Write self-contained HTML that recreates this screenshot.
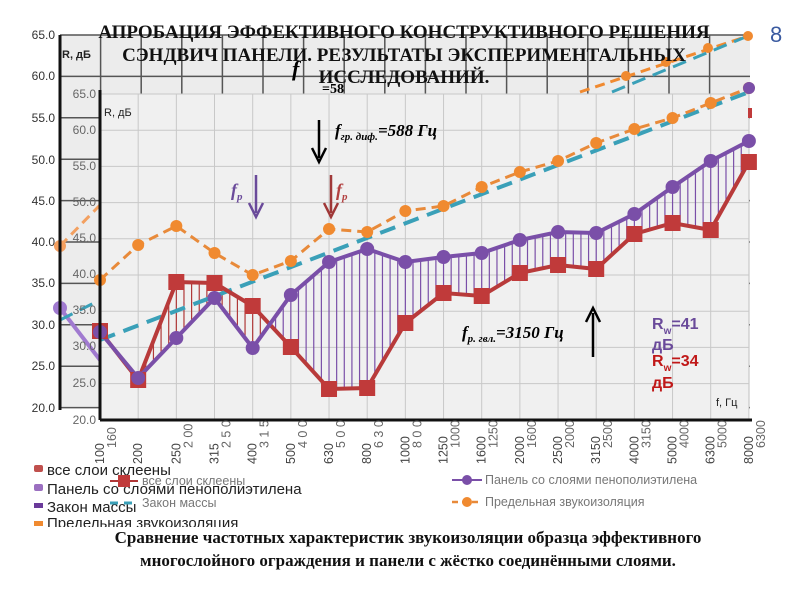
<!DOCTYPE html>
<html><head><meta charset="utf-8"><style>
body{margin:0;background:#fff;width:800px;height:600px;overflow:hidden}
svg{display:block}
.t{font-family:"Liberation Serif",serif;font-weight:bold}
.s{font-family:"Liberation Sans",sans-serif}
</style></head><body>
<svg id="c" width="800" height="600" xmlns="http://www.w3.org/2000/svg">
<rect x="60" y="35" width="690" height="373" fill="#ececec"/>
<g id="og" stroke="#555" stroke-width="1.5"></g>
<rect x="100" y="94" width="649" height="326" fill="#f0f0f0"/>
<g id="ig" stroke="#c8c8c8" stroke-width="1"></g>
<g id="bg"></g>
<g id="ser"></g>
<line x1="60" y1="35" x2="60" y2="410" stroke="#111" stroke-width="3"/>
<line x1="100" y1="90" x2="100" y2="420" stroke="#111" stroke-width="3"/>
<line x1="100" y1="420" x2="752" y2="420" stroke="#111" stroke-width="3"/>
<g class="s" font-size="12" fill="#333" text-anchor="end">
<text x="55" y="39">65.0</text><text x="55" y="80">60.0</text><text x="55" y="122">55.0</text><text x="55" y="164">50.0</text><text x="55" y="205">45.0</text><text x="55" y="246">40.0</text><text x="55" y="287">35.0</text><text x="55" y="329">30.0</text><text x="55" y="370">25.0</text><text x="55" y="412">20.0</text>
</g>
<g class="s" font-size="12" fill="#666" text-anchor="end">
<text x="96" y="98">65.0</text><text x="96" y="134">60.0</text><text x="96" y="170">55.0</text><text x="96" y="206">50.0</text><text x="96" y="242">45.0</text><text x="96" y="278">40.0</text><text x="96" y="314">35.0</text><text x="96" y="350">30.0</text><text x="96" y="387">25.0</text><text x="96" y="424">20.0</text>
</g>
<text class="s" x="62" y="58" font-size="11" font-weight="bold" fill="#222">R, дБ</text>
<text class="s" x="104" y="116" font-size="11" fill="#222">R, дБ</text>
<text class="s" x="716" y="406" font-size="11" fill="#222">f, Гц</text>
<g id="xl" class="s" font-size="12.5" fill="#444"></g>
<g class="t" font-size="19" fill="#111" text-anchor="middle">
<text x="404" y="38">АПРОБАЦИЯ ЭФФЕКТИВНОГО КОНСТРУКТИВНОГО РЕШЕНИЯ</text>
<text x="404" y="61">СЭНДВИЧ ПАНЕЛИ. РЕЗУЛЬТАТЫ ЭКСПЕРИМЕНТАЛЬНЫХ</text>
<text x="404" y="83">ИССЛЕДОВАНИЙ.</text>
</g>
<text class="t" x="292" y="76" font-size="22" font-style="italic">f</text>
<text class="t" x="322" y="93" font-size="14">=58</text>
<text x="770" y="42" font-family="Liberation Sans,sans-serif" font-size="22" fill="#3a5aa0">8</text>
<g class="t" font-style="italic">
<text x="335" y="136" font-size="17">f<tspan font-size="11" dy="4">гр. диф.</tspan><tspan dy="-4">=588 Гц</tspan></text>
<text x="462" y="338" font-size="17">f<tspan font-size="11" dy="4">р. гвл.</tspan><tspan dy="-4">=3150 Гц</tspan></text>
<text x="231" y="196" font-size="18" fill="#6a4a9a">f<tspan font-size="11" dy="4">p</tspan></text>
<text x="336" y="196" font-size="18" fill="#b24040">f<tspan font-size="11" dy="4">p</tspan></text>
</g>
<g stroke-width="2.5" fill="none">
<path d="M319 120V158M312 148L319 162L326 148" stroke="#000"/>
<path d="M256 175V213M249 203L256 217L263 203" stroke="#6a4a9a"/>
<path d="M331 175V213M324 203L331 217L338 203" stroke="#a03838"/>
<path d="M593 357V313M586 322L593 308L600 322" stroke="#000"/>
</g>
<g class="s" font-weight="bold" font-size="16">
<text x="652" y="329" fill="#6a4a9a">R<tspan font-size="10" dy="5">w</tspan><tspan dy="-5">=41</tspan></text>
<text x="652" y="350" fill="#6a4a9a">дБ</text>
<text x="652" y="366" fill="#c01818">R<tspan font-size="10" dy="5">w</tspan><tspan dy="-5">=34</tspan></text>
<text x="652" y="388" fill="#c01818">дБ</text>
</g>
<g class="s" font-size="15" fill="#222">
<rect x="34" y="465" width="9" height="7" rx="2" fill="#c0504d"/><text x="47" y="475">все слои склеены</text>
<rect x="34" y="484" width="9" height="7" rx="2" fill="#9b6fc0"/><text x="47" y="494">Панель со слоями пенополиэтилена</text>
<rect x="34" y="503" width="9" height="5" fill="#6a3a9a"/><text x="47" y="512">Закон массы</text>
<rect x="34" y="521" width="9" height="5" fill="#f08a30"/><text x="47" y="528" clip-path="url(#cl)">Предельная звукоизоляция</text>
</g>
<clipPath id="cl"><rect x="0" y="500" width="400" height="27"/></clipPath>
<g class="s" font-size="12.5" fill="#777">
<line x1="110" y1="481" x2="138" y2="481" stroke="#b03838" stroke-width="2"/><rect x="118" y="475" width="12" height="12" fill="#c03a3a"/>
<text x="142" y="485">все слои склеены</text>
<line x1="110" y1="503" x2="138" y2="503" stroke="#3aa0b8" stroke-width="3" stroke-dasharray="8,6"/>
<text x="142" y="507">Закон массы</text>
<line x1="452" y1="480" x2="482" y2="480" stroke="#7a4fa8" stroke-width="2"/><circle cx="467" cy="480" r="5" fill="#7a4fa8"/>
<text x="485" y="484">Панель со слоями пенополиэтилена</text>
<line x1="452" y1="502" x2="482" y2="502" stroke="#e88a3a" stroke-width="2.5" stroke-dasharray="6,4"/><circle cx="467" cy="502" r="5" fill="#f08a30"/>
<text x="485" y="506">Предельная звукоизоляция</text>
</g>
<g class="t" font-size="17" fill="#111" text-anchor="middle">
<text x="408" y="543">Сравнение частотных характеристик звукоизоляции образца эффективного</text>
<text x="408" y="566">многослойного ограждения и панели с жёстко соединёнными слоями.</text>
</g>
</svg>
<script>
const NS="http://www.w3.org/2000/svg";
function el(p,t,a){const e=document.createElementNS(NS,t);for(const k in a)e.setAttribute(k,a[k]);document.getElementById(p).appendChild(e);return e;}
for(let x=60;x<=750;x+=40.6)el("og","line",{x1:x,y1:35,x2:x,y2:408});
for(let y=35;y<=408;y+=41.4)el("og","line",{x1:60,y1:y,x2:750,y2:y});
const X=[];for(let i=0;i<18;i++)X.push(100+i*38.17);
X.forEach(x=>el("ig","line",{x1:x,y1:94,x2:x,y2:420}));
for(let i=0;i<10;i++){const y=94+i*36.2;el("ig","line",{x1:100,y1:y,x2:749,y2:y});}
const L=["100","200","250","315","400","500","630","800","1000","1250","1600","2000","2500","3150","4000","5000","6300","8000"];
const L2=["160","","2 00","2 5 0","3 1 5","4 0 0","5 0 0","6 3 0","8 0 0","1000","1250","1600","2000","2500","3150","4000","5000","6300"];
X.forEach((x,i)=>{let t=el("xl","text",{transform:`translate(${x+4},464) rotate(-90)`});t.textContent=L[i];
 t=el("xl","text",{transform:`translate(${x+16},${448}) rotate(-90)`,fill:"#666"});t.textContent=L2[i];});
el("bg","polyline",{points:"60,246 100,205",fill:"none",stroke:"#f3a060",'stroke-width':3,'stroke-dasharray':"10,6"});
el("bg","circle",{cx:60,cy:246,r:6,fill:"#f5a060"});
el("bg","polyline",{points:"580,92 748,36",fill:"none",stroke:"#f08a30",'stroke-width':3,'stroke-dasharray':"10,6"});
el("bg","polyline",{points:"612,92 748,36",fill:"none",stroke:"#3aa0b8",'stroke-width':3,'stroke-dasharray':"14,8"});
el("bg","circle",{cx:748,cy:36,r:5,fill:"#f08a30"});
el("bg","circle",{cx:626,cy:76,r:5,fill:"#f08a30"});el("bg","circle",{cx:666,cy:62,r:5,fill:"#f08a30"});el("bg","circle",{cx:708,cy:48,r:5,fill:"#f08a30"});
el("bg","polyline",{points:"60,308 100,360",fill:"none",stroke:"#a07ad0",'stroke-width':4});
el("bg","circle",{cx:60,cy:308,r:7,fill:"#a07ad0"});
el("bg","line",{x1:60,y1:320,x2:100,y2:300,stroke:"#3aa0b8",'stroke-width':3,'stroke-dasharray':"14,8"});
const P=[332,378,338,298,348,295,262,249,262,257,253,240,232,233,214,187,161,141];
const R=[331,380,282,283,306,347,389,388,323,293,296,273,265,269,234,223,230,162];
const O=[280,245,226,253,275,261,229,232,211,206,187,172,161,143,129,118,103,88];
for(let i=0;i<17;i++)for(let k=0;k<5;k++){const t=k/5,x=X[i]+t*38.17;const p=P[i]+(P[i+1]-P[i])*t,r=R[i]+(R[i+1]-R[i])*t;
 if(Math.abs(r-p)>3)el("ser","line",{x1:x,y1:p,x2:x,y2:r,stroke:r>p?"#7a4fa8":"#b03838",'stroke-width':1.2});}
const pts=a=>a.map((y,i)=>X[i]+","+y).join(" ");
el("ser","line",{x1:100,y1:340,x2:749,y2:92,stroke:"#3aa0b8",'stroke-width':4,'stroke-dasharray':"16,9"});
el("ser","polyline",{points:pts(O),fill:"none",stroke:"#e88a3a",'stroke-width':3,'stroke-dasharray':"10,6"});
el("ser","polyline",{points:pts(R),fill:"none",stroke:"#b83a3a",'stroke-width':4});
el("ser","polyline",{points:pts(P),fill:"none",stroke:"#7a4fa8",'stroke-width':4});
O.forEach((y,i)=>el("ser","circle",{cx:X[i],cy:y,r:6,fill:"#f08a30"}));
el("ser","circle",{cx:749,cy:88,r:6,fill:"#7a4fa8"});
R.forEach((y,i)=>el("ser","rect",{x:X[i]-8,y:y-8,width:16,height:16,fill:"#c03a3a"}));
P.forEach((y,i)=>el("ser","circle",{cx:X[i],cy:y,r:7,fill:"#7a4fa8"}));
el("ser","rect",{x:748,y:108,width:4,height:10,fill:"#c03a3a"});
</script>
</body></html>
